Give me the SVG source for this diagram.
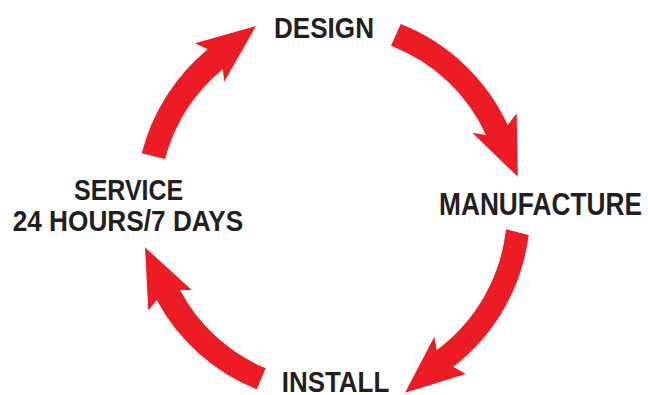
<svg xmlns="http://www.w3.org/2000/svg" width="648" height="395" viewBox="0 0 648 395">
<style>
.arrow{fill:#ed1c24;stroke:none}
.lbl{font-family:"Liberation Sans",Arial,sans-serif;font-weight:bold;font-size:30px;fill:#231f20}
</style>
<rect width="648" height="395" fill="#ffffff"/>
<g id="connectors">
<path class="arrow" d="M141.7,153.3 A199,199 0 0 1 207.7,49.3 L195,43.3 L256,26 L224.3,81.7 L222.7,69.3 A176,176 0 0 0 165,159 Z"/>
<path class="arrow" d="M400.7,24 A197,197 0 0 1 507.7,125 L516.7,113.3 L517.7,176.7 L472.3,132.7 L486,135 A172,172 0 0 0 391,45.7 Z"/>
<path class="arrow" d="M528.7,235 A197,197 0 0 1 453.3,366.7 L465.7,374 L405,392.7 L434.3,336.7 L436.7,350 A174,174 0 0 0 506,229.3 Z"/>
<path class="arrow" d="M256.7,389.3 A196,196 0 0 1 156.7,300 L148.3,310.7 L145,247.3 L191.7,290 L180,290 A172,172 0 0 0 265.7,368.3 Z"/>
</g>
<g id="node-design"><text class="lbl" x="274" y="38.3" textLength="100" lengthAdjust="spacingAndGlyphs">DESIGN</text></g>
<g id="node-manufacture"><text class="lbl" x="642" y="215" text-anchor="end" style="font-size:31px" textLength="203" lengthAdjust="spacingAndGlyphs">MANUFACTURE</text></g>
<g id="node-install"><text class="lbl" x="281.7" y="392" textLength="107.6" lengthAdjust="spacingAndGlyphs">INSTALL</text></g>
<g id="node-service">
<text class="lbl" x="74" y="200" textLength="109.3" lengthAdjust="spacingAndGlyphs">SERVICE</text>
<text class="lbl" x="12.7" y="231" textLength="230.6" lengthAdjust="spacingAndGlyphs">24 HOURS/7 DAYS</text>
</g>
</svg>
